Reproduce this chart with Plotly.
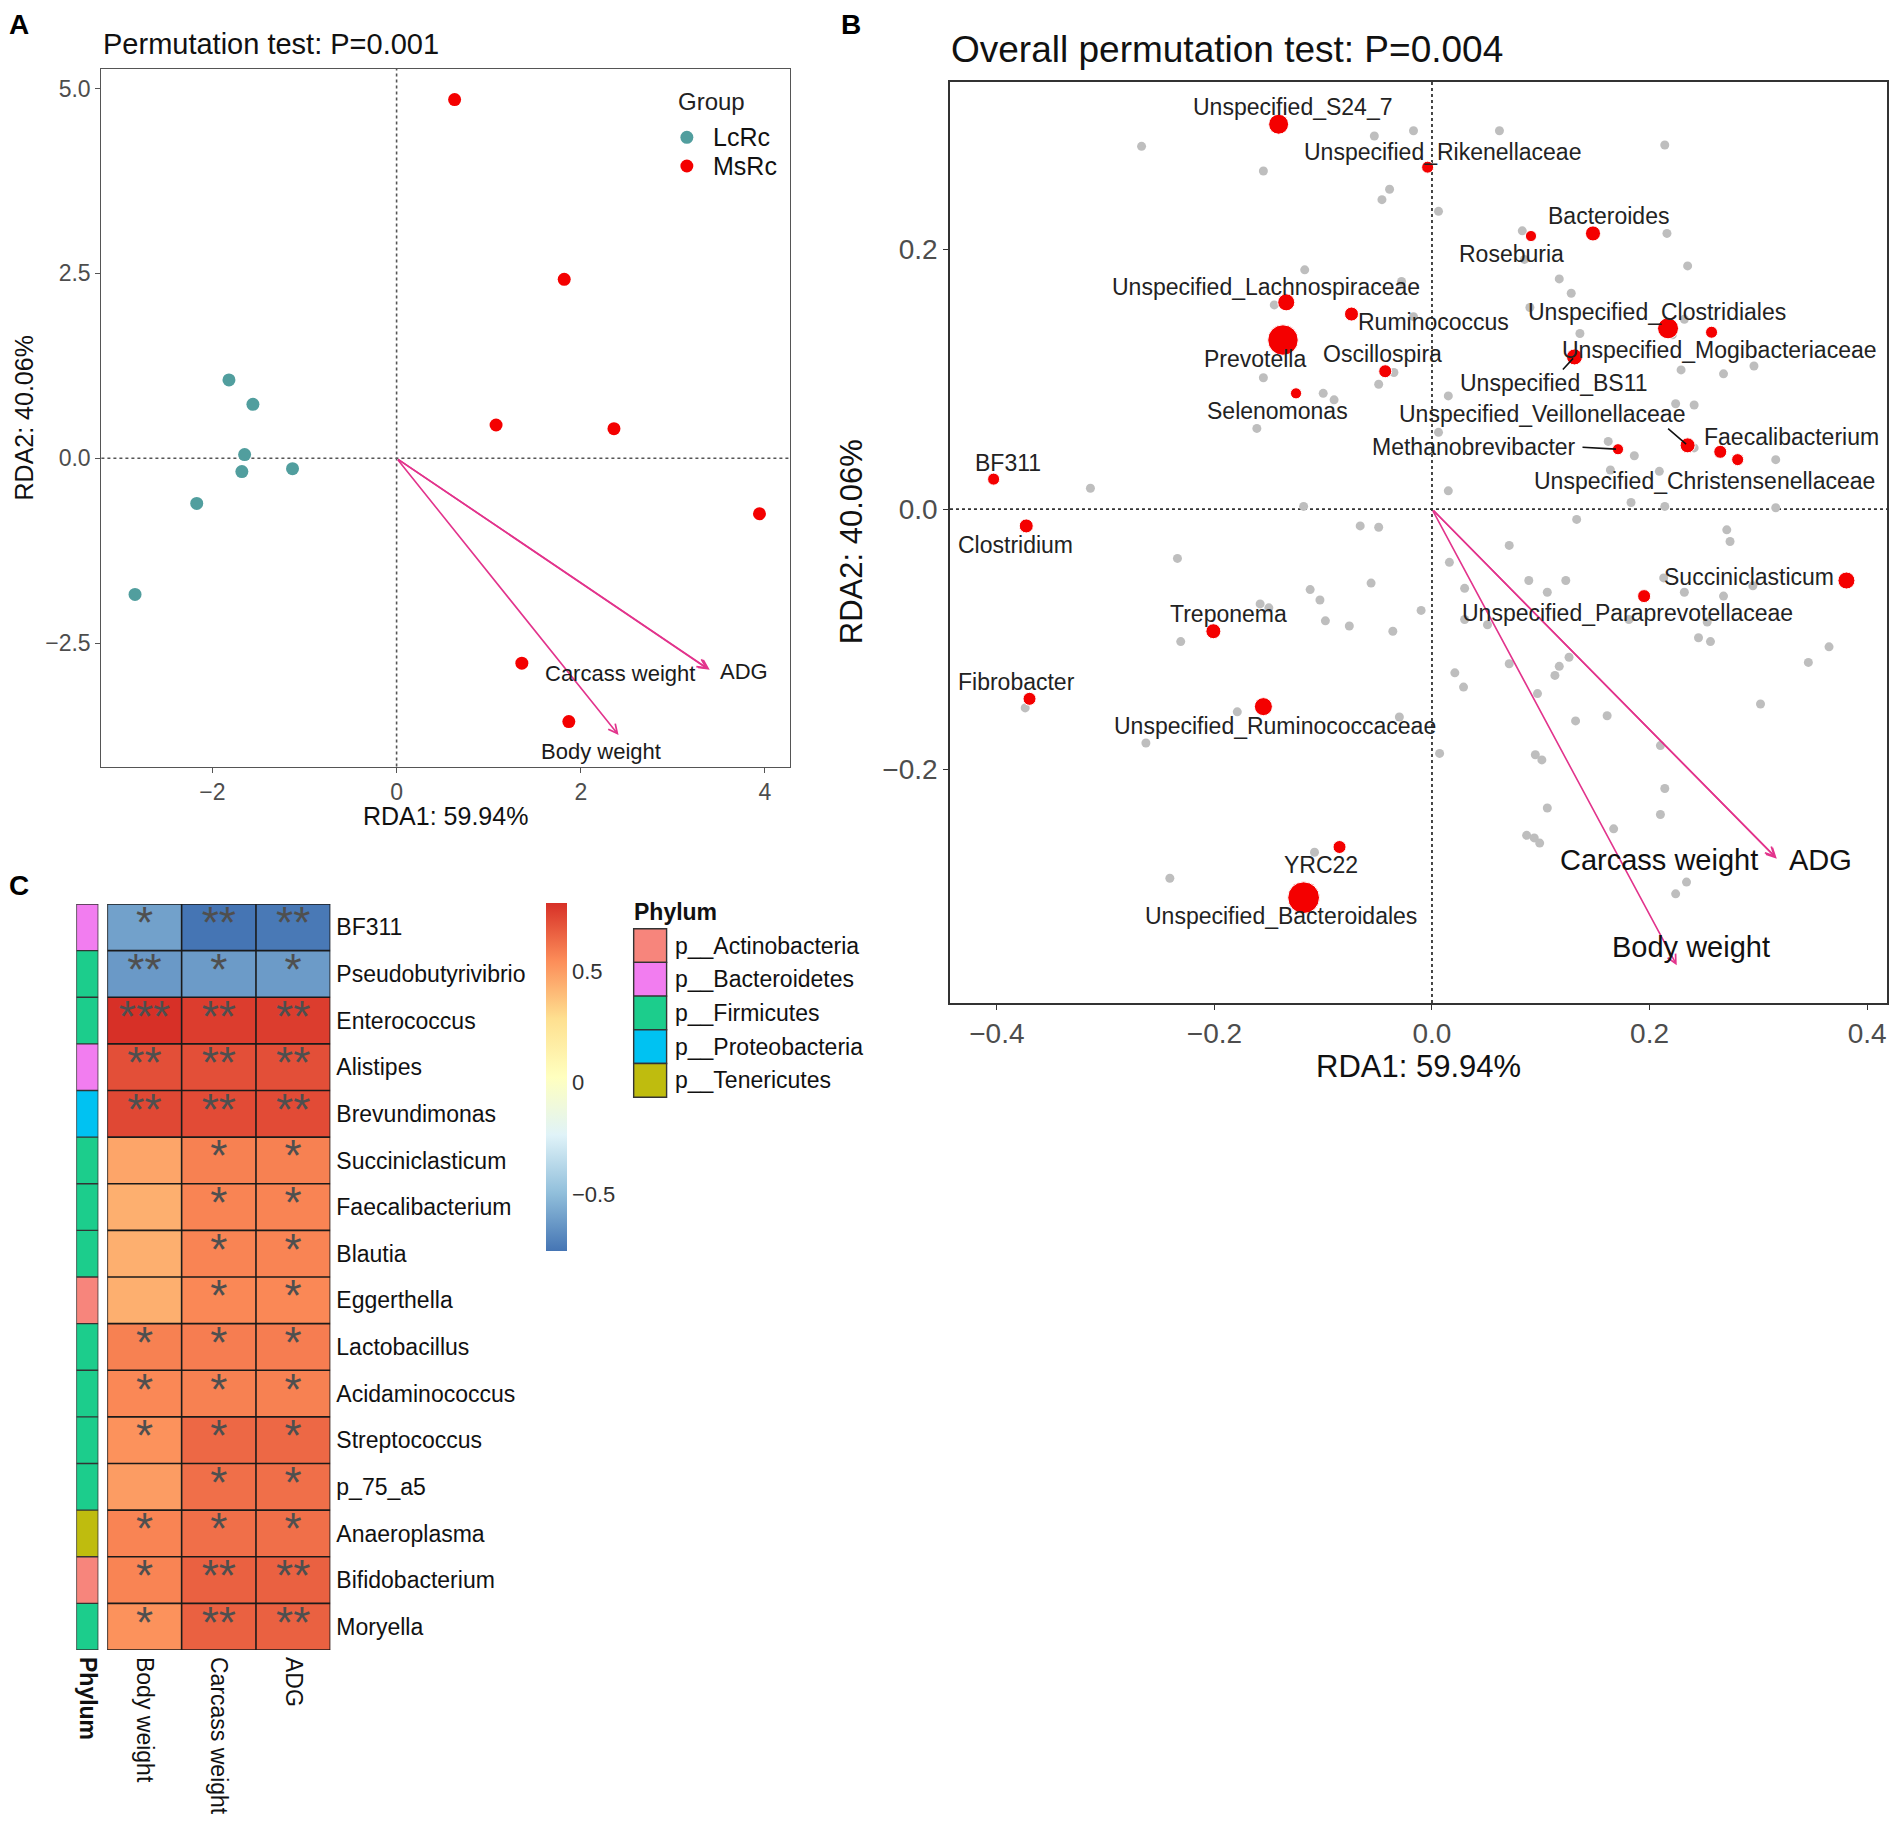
import plotly.graph_objects as go

# target picture size and page offset (browser body margin)
W, H = 1901, 1833
OFF = 8
FW, FH = W - 2 * OFF, H - 2 * OFF
FONT = "Liberation Sans, Arial, Helvetica, sans-serif"


def fx(px):
    return (px - OFF) / FW


def fy(py):
    return 1 - (py - OFF) / FH


# ---------------- Panel A data ----------------
group_names = ["LcRc", "MsRc"]
group_colors = ["#519E9E", "#F40000"]
lcrc_x = [-1.82, -1.56, -1.65, -1.68, -1.13, -2.17, -2.84]
lcrc_y = [1.06, 0.73, 0.05, -0.18, -0.14, -0.61, -1.84]
msrc_x = [0.63, 1.82, 1.08, 2.36, 3.94, 1.36, 1.87]
msrc_y = [4.85, 2.42, 0.45, 0.40, -0.75, -2.77, -3.56]
env_names = ["Body weight", "Carcass weight", "ADG"]
envA_x = [2.41, 3.38, 3.40]
envA_y = [-3.74, -2.85, -2.86]

# ---------------- Panel B data ----------------
genus_names = [
    "Unspecified_S24_7", "Unspecified_Rikenellaceae", "Bacteroides", "Roseburia",
    "Unspecified_Lachnospiraceae", "Ruminococcus", "Prevotella", "Oscillospira",
    "Selenomonas", "Unspecified_Clostridiales", "Unspecified_Mogibacteriaceae",
    "Unspecified_BS11", "Unspecified_Veillonellaceae", "Faecalibacterium",
    "Unspecified_Christensenellaceae", "Methanobrevibacter", "BF311", "Clostridium",
    "Treponema", "Fibrobacter", "Unspecified_Ruminococcaceae", "YRC22",
    "Unspecified_Bacteroidales", "Unspecified_Paraprevotellaceae", "Succiniclasticum",
]
genus_x = [-0.141, -0.004, 0.148, 0.091, -0.134, -0.074, -0.137, -0.043, -0.125, 0.217,
           0.257, 0.131, 0.235, 0.265, 0.281, 0.171, -0.403, -0.373, -0.201, -0.370,
           -0.155, -0.085, -0.118, 0.195, 0.381]
genus_y = [0.296, 0.263, 0.212, 0.210, 0.159, 0.150, 0.130, 0.106, 0.089, 0.139,
           0.136, 0.117, 0.049, 0.044, 0.038, 0.046, 0.023, -0.013, -0.094, -0.146,
           -0.152, -0.260, -0.299, -0.067, -0.055]
genus_abund = [6.5, 0.5, 2.0, 0.25, 3.5, 1.35, 25.0, 0.87, 0.25, 7.8,
               0.5, 2.65, 1.95, 0.87, 0.5, 0.25, 0.5, 1.35, 1.95, 0.87,
               4.4, 0.87, 28.0, 0.87, 3.46]

other_x = [-0.267, -0.155, -0.053, -0.017, -0.039, -0.046, 0.006, -0.117, -0.028, -0.145,
           -0.017, -0.155, -0.049, -0.035, -0.100, -0.090, -0.161, -0.314, -0.118, 0.006,
           0.062, 0.214, 0.083, 0.216, 0.085, 0.235, 0.117, 0.128, 0.090, 0.136,
           0.221, 0.232, 0.229, 0.268, 0.296, 0.015, 0.224, 0.241, 0.162, 0.186,
           0.241, 0.316, 0.164, 0.209, 0.015, 0.183, 0.214, 0.316, -0.066, -0.049,
           -0.234, -0.056, -0.112, -0.103, -0.158, -0.150, -0.010, -0.098, -0.076, -0.036,
           -0.231, -0.374, -0.179, -0.030, -0.263, 0.007, -0.108, -0.241, 0.133, 0.271,
           0.274, 0.071, 0.016, 0.089, 0.123, 0.030, 0.106, 0.213, 0.232, 0.268,
           0.295, 0.051, 0.030, 0.181, 0.253, 0.245, 0.256, 0.365, 0.346, 0.071,
           0.126, 0.021, 0.117, 0.113, 0.029, 0.097, 0.161, 0.132, 0.302, 0.210,
           0.095, 0.101, 0.214, 0.106, 0.210, 0.167, 0.087, 0.094, 0.099, 0.234,
           0.224]
other_y = [0.279, 0.260, 0.287, 0.291, 0.246, 0.238, 0.229, 0.184, 0.175, 0.157,
           0.148, 0.101, 0.096, 0.105, 0.089, 0.084, 0.062, 0.016, 0.002, 0.059,
           0.291, 0.280, 0.214, 0.212, 0.192, 0.187, 0.177, 0.166, 0.155, 0.135,
           0.134, 0.146, 0.107, 0.104, 0.110, 0.087, 0.081, 0.080, 0.052, 0.041,
           0.047, 0.038, 0.030, 0.029, 0.014, 0.005, 0.002, 0.001, -0.013, -0.014,
           -0.038, -0.057, -0.062, -0.070, -0.073, -0.076, -0.078, -0.086, -0.090, -0.094,
           -0.102, -0.153, -0.156, -0.160, -0.180, -0.188, -0.264, -0.284, -0.008, -0.016,
           -0.025, -0.028, -0.041, -0.055, -0.055, -0.061, -0.064, -0.053, -0.064, -0.067,
           -0.059, -0.089, -0.085, -0.085, -0.087, -0.099, -0.102, -0.106, -0.118, -0.119,
           -0.114, -0.126, -0.121, -0.128, -0.137, -0.142, -0.159, -0.163, -0.150, -0.182,
           -0.189, -0.193, -0.215, -0.230, -0.235, -0.246, -0.251, -0.253, -0.257, -0.287,
           -0.296]
envB_x = [0.225, 0.316, 0.317]
envB_y = [-0.351, -0.268, -0.269]

# ---------------- Panel C data ----------------
heat_rows = ["BF311", "Pseudobutyrivibrio", "Enterococcus", "Alistipes", "Brevundimonas",
             "Succiniclasticum", "Faecalibacterium", "Blautia", "Eggerthella", "Lactobacillus",
             "Acidaminococcus", "Streptococcus", "p_75_a5", "Anaeroplasma", "Bifidobacterium",
             "Moryella"]
heat_cols = ["Body weight", "Carcass weight", "ADG"]
corr_values = [
    [-0.60, -0.755, -0.74],
    [-0.63, -0.62, -0.62],
    [0.806, 0.77, 0.77],
    [0.72, 0.72, 0.72],
    [0.74, 0.73, 0.73],
    [0.47, 0.58, 0.58],
    [0.44, 0.57, 0.57],
    [0.44, 0.57, 0.57],
    [0.44, 0.56, 0.56],
    [0.58, 0.59, 0.59],
    [0.56, 0.58, 0.58],
    [0.53, 0.65, 0.65],
    [0.50, 0.63, 0.63],
    [0.57, 0.63, 0.63],
    [0.57, 0.67, 0.67],
    [0.53, 0.67, 0.67],
]
signif = [
    ["*", "**", "**"],
    ["**", "*", "*"],
    ["***", "**", "**"],
    ["**", "**", "**"],
    ["**", "**", "**"],
    ["", "*", "*"],
    ["", "*", "*"],
    ["", "*", "*"],
    ["", "*", "*"],
    ["*", "*", "*"],
    ["*", "*", "*"],
    ["*", "*", "*"],
    ["", "*", "*"],
    ["*", "*", "*"],
    ["*", "**", "**"],
    ["*", "**", "**"],
]
phylum_levels = ["p__Actinobacteria", "p__Bacteroidetes", "p__Firmicutes",
                 "p__Proteobacteria", "p__Tenericutes"]
phylum_colors = ["#F7857C", "#F27DF0", "#1CCD8C", "#00C2F2", "#BFBC0E"]
row_phylum = ["p__Bacteroidetes", "p__Firmicutes", "p__Firmicutes", "p__Bacteroidetes",
              "p__Proteobacteria", "p__Firmicutes", "p__Firmicutes", "p__Firmicutes",
              "p__Actinobacteria", "p__Firmicutes", "p__Firmicutes", "p__Firmicutes",
              "p__Firmicutes", "p__Tenericutes", "p__Actinobacteria", "p__Firmicutes"]

# ---------------- label placement (pixel offsets, ggrepel-like) ----------------
label_off = {
    "Unspecified_S24_7": (14, -17), "Unspecified_Rikenellaceae": (15, -15),
    "Bacteroides": (16, -17), "Roseburia": (-19, 18),
    "Unspecified_Lachnospiraceae": (-20, -15), "Ruminococcus": (82, 8),
    "Prevotella": (-28, 19), "Oscillospira": (-3, -17), "Selenomonas": (-19, 18),
    "Unspecified_Clostridiales": (-11, -16), "Unspecified_Mogibacteriaceae": (8, 18),
    "Unspecified_BS11": (-20, 26), "Unspecified_Veillonellaceae": (-146, -31),
    "Faecalibacterium": (71, -15), "Unspecified_Christensenellaceae": (-33, 21),
    "Methanobrevibacter": (-144, -2), "BF311": (14, -16), "Clostridium": (-11, 19),
    "Treponema": (15, -17), "Fibrobacter": (-13, -17),
    "Unspecified_Ruminococcaceae": (12, 19), "YRC22": (-19, 18),
    "Unspecified_Bacteroidales": (-23, 18), "Unspecified_Paraprevotellaceae": (-17, 17),
    "Succiniclasticum": (-97, -4),
}
connector_off = {
    "Unspecified_BS11": (-13, 14),
    "Unspecified_Veillonellaceae": (-21, -18),
    "Methanobrevibacter": (-37, -2),
}
envA_label_off = [(-18, 17), (-88, 4), (34, 2)]
envB_label_off = [(14, -18), (-117, 3), (44, 1)]

ARROW = "#E2348C"
GREY_TXT = "#4D4D4D"

fig = go.Figure()

# ---- Panel A traces ----
fig.add_trace(go.Scatter(x=lcrc_x, y=lcrc_y, mode="markers", name=group_names[0],
                         marker=dict(color=group_colors[0], size=13, opacity=1),
                         xaxis="x", yaxis="y", showlegend=False))
fig.add_trace(go.Scatter(x=msrc_x, y=msrc_y, mode="markers", name=group_names[1],
                         marker=dict(color=group_colors[1], size=13, opacity=1),
                         xaxis="x", yaxis="y", showlegend=False))

# ---- Panel B traces ----
fig.add_trace(go.Scatter(x=other_x, y=other_y, mode="markers", showlegend=False,
                         marker=dict(color="#BEBEBE", size=9, opacity=1),
                         xaxis="x2", yaxis="y2"))
genus_size = [9 + 4.3 * a ** 0.5 for a in genus_abund]
fig.add_trace(go.Scatter(x=genus_x, y=genus_y, mode="markers", showlegend=False,
                         marker=dict(color="#F40000", size=genus_size, opacity=1),
                         xaxis="x2", yaxis="y2"))

# ---- Panel C traces ----
pheat_scale = [[0, "#4575B4"], [1 / 6, "#91BFDB"], [2 / 6, "#E0F3F8"], [3 / 6, "#FFFFBF"],
               [4 / 6, "#FEE090"], [5 / 6, "#FC8D59"], [1, "#D73027"]]
zmin = min(min(r) for r in corr_values)
zmax = max(max(r) for r in corr_values)
fig.add_trace(go.Heatmap(
    z=corr_values, x=heat_cols, y=heat_rows, colorscale=pheat_scale, zmin=zmin, zmax=zmax,
    xaxis="x3", yaxis="y3", hoverinfo="skip",
    colorbar=dict(x=fx(546), xanchor="left", y=fy(1077), yanchor="middle",
                  len=348 / FH, lenmode="fraction", thickness=21, thicknessmode="pixels",
                  xpad=0, ypad=0, outlinewidth=0, tickvals=[-0.5, 0, 0.5],
                  ticktext=["\u22120.5", "0", "0.5"], ticks="", ticklabelposition="outside",
                  tickfont=dict(size=22, color="#333333", family=FONT)),
))
sx, sy, st = [], [], []
for i, r in enumerate(heat_rows):
    for j, c in enumerate(heat_cols):
        if signif[i][j]:
            sx.append(c)
            sy.append(r)
            st.append(signif[i][j])
fig.add_trace(go.Scatter(x=sx, y=sy, text=st, mode="text", showlegend=False,
                         textfont=dict(size=44, color="#4F4F4F", family=FONT),
                         textposition="middle center", xaxis="x3", yaxis="y3", hoverinfo="skip"))

# phylum strip
n_ph = len(phylum_levels)
strip_scale = []
for k, col in enumerate(phylum_colors):
    strip_scale.append([k / n_ph, col])
    strip_scale.append([(k + 1) / n_ph, col])
strip_z = [[phylum_levels.index(p)] for p in row_phylum]
fig.add_trace(go.Heatmap(z=strip_z, x=["Phylum"], y=heat_rows, colorscale=strip_scale,
                         zmin=-0.5, zmax=n_ph - 0.5, showscale=False, xaxis="x4", yaxis="y4",
                         hoverinfo="skip"))

n_rows = len(heat_rows)
n_cols = len(heat_cols)

# ---------------- layout ----------------
axis_common = dict(showgrid=False, zeroline=False, showline=True, mirror=True,
                   ticks="outside", ticklen=5, tickwidth=1.2)

layout = dict(
    width=FW, height=FH, autosize=False,
    margin=dict(l=0, r=0, t=0, b=0),
    paper_bgcolor="white", plot_bgcolor="white",
    font=dict(family=FONT, color="#111111"),
    showlegend=False,
    xaxis=dict(domain=[fx(100.6), fx(790.8)], range=[-3.205, 4.273], anchor="y",
               tickvals=[-2, 0, 2, 4], linecolor="#555555", linewidth=1.3, tickcolor="#555555",
               tickfont=dict(size=23, color=GREY_TXT), **axis_common),
    yaxis=dict(domain=[fy(766.5), fy(68.5)], range=[-4.167, 5.27], anchor="x",
               tickvals=[-2.5, 0, 2.5, 5.0], tickformat=".1f", linecolor="#555555",
               linewidth=1.3, tickcolor="#555555",
               tickfont=dict(size=23, color=GREY_TXT), **axis_common),
    xaxis2=dict(domain=[fx(951), fx(1890)], range=[-0.4431, 0.4183], anchor="y2",
                tickvals=[-0.4, -0.2, 0.0, 0.2, 0.4], tickformat=".1f", linecolor="#333333",
                linewidth=1.6, tickcolor="#333333",
                tickfont=dict(size=28, color=GREY_TXT), **axis_common),
    yaxis2=dict(domain=[fy(1003), fy(82)], range=[-0.38, 0.3285], anchor="x2",
                tickvals=[-0.2, 0.0, 0.2], tickformat=".1f", linecolor="#333333",
                linewidth=1.6, tickcolor="#333333",
                tickfont=dict(size=28, color=GREY_TXT), **axis_common),
    xaxis3=dict(domain=[fx(106.5), fx(330)], range=[-0.5, n_cols - 0.5], anchor="y3",
                showgrid=False, zeroline=False, showline=False, ticks="", tickangle=90,
                ticklabelstandoff=6, tickfont=dict(size=23, color="#111111")),
    yaxis3=dict(domain=[fy(1650), fy(904)], range=[n_rows - 0.5, -0.5], anchor="x3",
                side="right", showgrid=False, zeroline=False, showline=False, ticks="",
                ticklabelstandoff=5, tickfont=dict(size=23, color="#111111")),
    xaxis4=dict(domain=[fx(75.5), fx(97.5)], range=[-0.5, 0.5], anchor="y4",
                showgrid=False, zeroline=False, showline=False, ticks="", tickangle=90,
                tickvals=["Phylum"], ticktext=["<b>Phylum</b>"], ticklabelstandoff=6,
                tickfont=dict(size=23, color="#111111")),
    yaxis4=dict(domain=[fy(1650), fy(904)], range=[n_rows - 0.5, -0.5], anchor="x4",
                showgrid=False, zeroline=False, showline=False, ticks="", showticklabels=False),
)
fig.update_layout(**layout)

shapes = []
# dotted reference lines
for xa, ya, col, w in [("x", "y", "#555555", 1.6), ("x2", "y2", "#333333", 1.8)]:
    shapes.append(dict(type="line", xref=xa, yref=f"{ya} domain", x0=0, x1=0, y0=0, y1=1,
                       line=dict(color=col, width=w, dash="dot"), layer="below"))
    shapes.append(dict(type="line", xref=f"{xa} domain", yref=ya, x0=0, x1=1, y0=0, y1=0,
                       line=dict(color=col, width=w, dash="dot"), layer="below"))
# heatmap cell borders
for i in range(n_rows + 1):
    shapes.append(dict(type="line", xref="x3", yref="y3", x0=-0.5, x1=n_cols - 0.5,
                       y0=i - 0.5, y1=i - 0.5, line=dict(color="#1a1a1a", width=1.6)))
    shapes.append(dict(type="line", xref="x4", yref="y4", x0=-0.5, x1=0.5,
                       y0=i - 0.5, y1=i - 0.5, line=dict(color="#333333", width=1.4)))
for j in range(n_cols + 1):
    shapes.append(dict(type="line", xref="x3", yref="y3", x0=j - 0.5, x1=j - 0.5,
                       y0=-0.5, y1=n_rows - 0.5, line=dict(color="#1a1a1a", width=1.6)))
for j in range(2):
    shapes.append(dict(type="line", xref="x4", yref="y4", x0=j - 0.5, x1=j - 0.5,
                       y0=-0.5, y1=n_rows - 0.5, line=dict(color="#333333", width=1.4)))
# phylum legend boxes
box_top, box_h = 928.7, 33.7
for k, (lev, col) in enumerate(zip(phylum_levels, phylum_colors)):
    shapes.append(dict(type="rect", xref="paper", yref="paper", x0=fx(634), x1=fx(667),
                       y0=fy(box_top + (k + 1) * box_h), y1=fy(box_top + k * box_h),
                       fillcolor=col, line=dict(color="#333333", width=1.4)))
# group legend keys (panel A)
key_y = [137.3, 166.0]
for col, ky in zip(group_colors, key_y):
    shapes.append(dict(type="circle", xref="paper", yref="paper",
                       x0=fx(687.3 - 6.5), x1=fx(687.3 + 6.5), y0=fy(ky + 6.5), y1=fy(ky - 6.5),
                       fillcolor=col, line=dict(width=0)))

annotations = []


def ann(**kw):
    base = dict(showarrow=False, xanchor="center", yanchor="middle",
                font=dict(family=FONT, size=22, color="#111111"))
    base.update(kw)
    annotations.append(base)


# group legend text
ann(text="Group", x=fx(676.5), y=fy(101.7), xref="paper", yref="paper", xanchor="left",
    font=dict(size=24, family=FONT, color="#222222"))
for name, ky in zip(group_names, key_y):
    ann(text=name, x=fx(711.5), y=fy(ky), xref="paper", yref="paper", xanchor="left",
        font=dict(size=25, family=FONT, color="#111111"))

# panel letters
ann(text="<b>A</b>", x=fx(18), y=fy(24), xref="paper", yref="paper", font=dict(size=28, family=FONT, color="#000"))
ann(text="<b>B</b>", x=fx(852), y=fy(24), xref="paper", yref="paper", font=dict(size=28, family=FONT, color="#000"))
ann(text="<b>C</b>", x=fx(18), y=fy(885), xref="paper", yref="paper", font=dict(size=28, family=FONT, color="#000"))

# titles
ann(text="Permutation test: P=0.001", x=fx(100), y=fy(44), xref="paper", yref="paper",
    xanchor="left", font=dict(size=29, family=FONT, color="#111111"))
ann(text="Overall permutation test: P=0.004", x=fx(950), y=fy(49), xref="paper", yref="paper",
    xanchor="left", font=dict(size=37, family=FONT, color="#111111"))

# axis titles
ann(text="RDA1: 59.94%", x=fx(445.7), y=fy(816), xref="paper", yref="paper",
    font=dict(size=25, family=FONT, color="#111111"))
ann(text="RDA2: 40.06%", x=fx(24), y=fy(417.5), xref="paper", yref="paper", textangle=-90,
    font=dict(size=25, family=FONT, color="#111111"))
ann(text="RDA1: 59.94%", x=fx(1420.5), y=fy(1066), xref="paper", yref="paper",
    font=dict(size=31, family=FONT, color="#111111"))
ann(text="RDA2: 40.06%", x=fx(852), y=fy(542), xref="paper", yref="paper", textangle=-90,
    font=dict(size=31, family=FONT, color="#111111"))

# environmental arrows panel A
for name, ex, ey, off in zip(env_names, envA_x, envA_y, envA_label_off):
    annotations.append(dict(x=ex, y=ey, ax=0, ay=0, xref="x", yref="y", axref="x", ayref="y",
                            text="", showarrow=True, arrowhead=5, arrowsize=1.1,
                            arrowwidth=1.6, arrowcolor=ARROW, standoff=0))
    ann(text=name, x=ex, y=ey, xref="x", yref="y", xshift=off[0], yshift=-off[1],
        font=dict(size=22, family=FONT, color="#1a1a1a"))

# environmental arrows panel B
for name, ex, ey, off in zip(env_names, envB_x, envB_y, envB_label_off):
    annotations.append(dict(x=ex, y=ey, ax=0, ay=0, xref="x2", yref="y2", axref="x2", ayref="y2",
                            text="", showarrow=True, arrowhead=5, arrowsize=1.1,
                            arrowwidth=1.6, arrowcolor=ARROW, standoff=0))
    ann(text=name, x=ex, y=ey, xref="x2", yref="y2", xshift=off[0], yshift=-off[1],
        font=dict(size=29, family=FONT, color="#111111"))

# genus labels
for name, gx, gy in zip(genus_names, genus_x, genus_y):
    dx, dy = label_off[name]
    ann(text=name, x=gx, y=gy, xref="x2", yref="y2", xshift=dx, yshift=-dy,
        font=dict(size=23, family=FONT, color="#222222"))
    if name in connector_off:
        cx, cy = connector_off[name]
        annotations.append(dict(x=gx, y=gy, xref="x2", yref="y2", ax=cx, ay=cy, text="",
                                showarrow=True, arrowhead=0, arrowwidth=1.6,
                                arrowcolor="#111111", standoff=2))

# phylum legend
ann(text="<b>Phylum</b>", x=fx(632), y=fy(912), xref="paper", yref="paper", xanchor="left",
    font=dict(size=23, family=FONT, color="#111111"))
for k, lev in enumerate(phylum_levels):
    ann(text=lev, x=fx(673), y=fy(box_top + (k + 0.5) * box_h), xref="paper", yref="paper",
        xanchor="left", font=dict(size=23, family=FONT, color="#111111"))

fig.update_layout(shapes=shapes, annotations=annotations)
fig.write_html("out.html")
